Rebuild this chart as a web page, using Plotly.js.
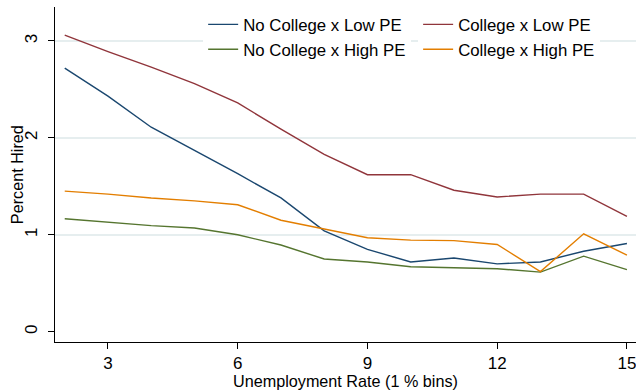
<!DOCTYPE html>
<html><head><meta charset="utf-8">
<script src="https://cdn.plot.ly/plotly-3.0.1.min.js"></script>
<style>html,body{margin:0;padding:0;background:#fff}</style>
</head><body><div id="chart" style="width:636px;height:392px"></div>
<script>
const unemploymentRate = [2,3,4,5,6,7,8,9,10,11,12,13,14,15];
const noCollegeLowPE   = [2.72,2.43,2.11,1.87,1.63,1.38,1.04,0.85,0.72,0.76,0.70,0.72,0.83,0.91];
const collegeLowPE     = [3.06,2.89,2.73,2.56,2.36,2.09,1.83,1.62,1.62,1.46,1.39,1.42,1.42,1.19];
const noCollegeHighPE  = [1.165,1.13,1.095,1.07,1.0,0.895,0.75,0.72,0.67,0.66,0.65,0.615,0.78,0.64];
const collegeHighPE    = [1.45,1.42,1.38,1.35,1.31,1.15,1.06,0.97,0.945,0.94,0.90,0.62,1.01,0.79];
const seriesNames = ['No College x Low PE','College x Low PE','No College x High PE','College x High PE'];
const xTicks = [3,6,9,12,15];
const yTicks = [0,1,2,3];
const xTitle = 'Unemployment Rate (1 % bins)';
const yTitle = 'Percent Hired';

const FONT = 'Liberation Sans, Arial, sans-serif';
const colors = ['#1a476f','#90353b','#55752f','#e37e00'];
const data = [
  {x: unemploymentRate, y: noCollegeLowPE, name: seriesNames[0], legend: 'legend'},
  {x: unemploymentRate, y: collegeLowPE, name: seriesNames[1], legend: 'legend2'},
  {x: unemploymentRate, y: noCollegeHighPE, name: seriesNames[2], legend: 'legend'},
  {x: unemploymentRate, y: collegeHighPE, name: seriesNames[3], legend: 'legend2'}
].map((t, i) => Object.assign(t, {type: 'scatter', mode: 'lines', line: {color: colors[i], width: 1.4}}));

const legendBase = {
  orientation: 'v', bgcolor: '#fff', borderwidth: 0, itemwidth: 30,
  font: {family: FONT, size: 16.8, color: '#000'},
  xanchor: 'left', yanchor: 'top', y: 1.0, tracegroupgap: 0
};
const layout = {
  width: 636, height: 392,
  margin: {l: 55, r: 0, t: 7, b: 50},
  paper_bgcolor: '#fff', plot_bgcolor: '#fff',
  showlegend: true,
  legend: Object.assign({}, legendBase, {x: 0.255}),
  legend2: Object.assign({}, legendBase, {x: 0.625}),
  xaxis: {
    range: [1.775, 15.21], tickvals: xTicks, ticktext: xTicks.map(String),
    showgrid: false, zeroline: false, showline: true, linecolor: '#000', linewidth: 1,
    ticks: 'outside', ticklen: 6, tickcolor: '#000', ticklabeloverflow: 'allow',
    tickfont: {family: FONT, size: 17, color: '#000'}
  },
  yaxis: {
    range: [-0.106, 3.35], tickvals: yTicks, ticktext: yTicks.map(String), tickangle: -90,
    showgrid: true, gridcolor: '#e6eeef', gridwidth: 1.5, zeroline: false,
    showline: true, linecolor: '#000', linewidth: 1,
    ticks: 'outside', ticklen: 6, tickcolor: '#000', ticklabelstandoff: 4,
    tickfont: {family: FONT, size: 17, color: '#000'}
  },
  annotations: [
    {text: xTitle, xref: 'paper', yref: 'paper', x: 0.5, y: -0.117, xanchor: 'center', yanchor: 'middle',
     showarrow: false, font: {family: FONT, size: 16.2, color: '#000'}},
    {text: yTitle, xref: 'paper', yref: 'paper', x: -0.066, y: 0.5, xanchor: 'center', yanchor: 'middle',
     textangle: -90, showarrow: false, font: {family: FONT, size: 16.2, color: '#000'}}
  ]
};
Plotly.newPlot('chart', data, layout, {displayModeBar: false, staticPlot: true}).then(() => {
  // hide zero gridline (reference has no gridline at 0)
  document.querySelectorAll('.ygrid').forEach(g => {
    const tr = g.getAttribute('transform') || '';
    const m = tr.match(/translate\(0,?\s*([\d.]+)\)/);
    if (m && Math.abs(parseFloat(m[1]) - 331.7) < 2) g.style.display = 'none';
  });
});
</script></body></html>
